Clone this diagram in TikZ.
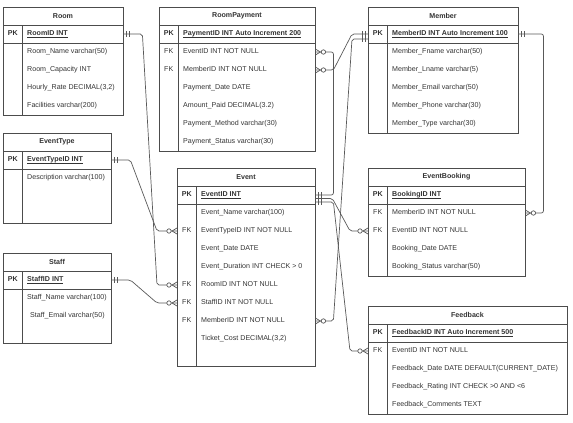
\documentclass[tikz,border=0pt]{standalone}
\usepackage{fontspec}
\setmainfont{Liberation Sans}
\usetikzlibrary{calc}

\tikzset{
  tblline/.style={draw=black!70, line width=0.7pt},
  rel/.style={draw=black!65, line width=0.7pt},
  conn/.style={rel, rounded corners=2pt},
  titletext/.style={font=\fontsize{7.1}{8.5}\selectfont\bfseries, text=black!80},
  keytext/.style={anchor=west, minimum width=19pt, inner sep=0pt, text height=5.2pt, text depth=1.4pt,
    font=\fontsize{7.1}{8.5}\selectfont, text=black!80},
  rowtext/.style={anchor=west, inner sep=0pt, text height=5.2pt, text depth=1.4pt,
    font=\fontsize{7.1}{8.5}\selectfont, text=black!80}
}

% #1 name, #2 left, #3 top, #4 right, #5 body rows, #6 title, #7 primary key, #8 rows key/text
\newcommand{\ertable}[8]{%
  \draw[tblline] (#2,#3) rectangle (#4,#3+36+18*#5);
  \draw[tblline] (#2,#3+18) -- (#4,#3+18) (#2,#3+36) -- (#4,#3+36)
    (#2+19,#3+18) -- (#2+19,#3+36+18*#5);
  \node[titletext] (#1) at ({(#2+#4)/2},#3+9) {#6};
  \node[keytext, font=\fontsize{7.1}{8.5}\selectfont\bfseries] (#1-pk-key) at (#2,#3+27) {PK};
  \node[rowtext] (#1-pk) at (#2+24,#3+27)
    {\makebox[\dimexpr#4pt-#2pt-24pt\relax][l]{\bfseries\underline{\smash{#7}}}};
  \foreach \fk/\txt [count=\row] in {#8}
    {\node[keytext] (#1-\row-key) at (#2,#3+27+18*\row) {\fk};
     \node[rowtext] (#1-\row) at (#2+24,#3+27+18*\row)
       {\makebox[\dimexpr#4pt-#2pt-24pt\relax][l]{\txt}};}
}

% mandatory one: #1 point on the table edge, #2 = 1 line leaves right, -1 left
\newcommand{\markone}[2]{%
  \draw[rel] ($(#1)+(#2*3,-3)$) -- ++(0,6) ($(#1)+(#2*6,-3)$) -- ++(0,6);}
% zero or many
\newcommand{\markmany}[2]{%
  \draw[rel] ($(#1)+(0,-3)$) -- ($(#1)+(#2*5,0)$) -- ($(#1)+(0,3)$);
  \draw[rel, fill=white] ($(#1)+(#2*8,0)$) circle[radius=2.2pt];}

\begin{document}
\begin{tikzpicture}[x=1pt, y=-1pt]
\useasboundingbox (0,0) rectangle (573,423);

% tables
\ertable{room}{3}{7}{123}{4}{Room}{RoomID INT}
  {/Room\_Name varchar(50), /Room\_Capacity INT, /{Hourly\_Rate DECIMAL(3,2)}, /Facilities varchar(200)}
\ertable{pay}{159}{7}{315}{6}{RoomPayment}{PaymentID INT Auto Increment 200}
  {FK/EventID INT NOT NULL, FK/MemberID INT NOT NULL, /Payment\_Date DATE,
   /Amount\_Paid DECIMAL(3.2), /Payment\_Method varchar(30), /Payment\_Status varchar(30)}
\ertable{member}{368}{7}{518}{5}{Member}{MemberID INT Auto Increment 100}
  {/Member\_Fname varchar(50), /Member\_Lname varchar(5), /Member\_Email varchar(50),
   /Member\_Phone varchar(30), /Member\_Type varchar(30)}
\ertable{etype}{3}{133}{111}{3}{EventType}{EventTypeID INT}{/Description varchar(100)}
\ertable{staff}{3}{253}{111}{3}{Staff}{StaffID INT}
  {/Staff\_Name varchar(100), /{\hspace*{3pt}Staff\_Email varchar(50)}}
\ertable{event}{177}{168}{315}{9}{Event}{EventID INT}
  {/Event\_Name varchar(100), FK/EventTypeID INT NOT NULL, /Event\_Date DATE,
   /Event\_Duration INT CHECK > 0, FK/RoomID INT NOT NULL, FK/StaffID INT NOT NULL,
   FK/MemberID INT NOT NULL, /{Ticket\_Cost DECIMAL(3,2)}}
\ertable{booking}{368}{168}{525}{4}{EventBooking}{BookingID INT}
  {FK/MemberID INT NOT NULL, FK/EventID INT NOT NULL, /Booking\_Date DATE, /Booking\_Status varchar(50)}
\ertable{feedback}{368}{306}{567}{4}{Feedback}{FeedbackID INT Auto Increment 500}
  {FK/EventID INT NOT NULL, /Feedback\_Date DATE DEFAULT(CURRENT\_DATE),
   /Feedback\_Rating INT CHECK >0 AND <6, /Feedback\_Comments TEXT}

% relationships
\coordinate (event-pk-b) at ([yshift=-3.5pt]event-pk.east);
\coordinate (event-pk-c) at ([yshift=-7pt]event-pk.east);
\coordinate (member-pk-b) at ([yshift=-5pt]member-pk-key.west);

\draw[conn] (room-pk.east) -- ++(19,0) -- ([xshift=-20pt]event-5-key.west) -- (event-5-key.west);
\draw[conn] (etype-pk.east) -- ++(19,0) -- ([xshift=-20pt]event-2-key.west) -- (event-2-key.west);
\draw[conn] (staff-pk.east) -- ++(19,0) -- ([xshift=-20pt]event-6-key.west) -- (event-6-key.west);
\draw[conn] (event-pk.east) -- ++(18,0) -- ([xshift=18pt]pay-1.east) -- (pay-1.east);
\draw[conn] (event-pk-b) -- ++(17,0) -- ([xshift=-18pt]booking-2-key.west) -- (booking-2-key.west);
\draw[conn] (event-pk-c) -- ++(18,0) -- ([xshift=-18pt]feedback-1-key.west) -- (feedback-1-key.west);
\draw[conn] (member-pk-key.west) -- ++(-16,0) -- ([xshift=18pt]pay-2.east) -- (pay-2.east);
\draw[conn] (member-pk-b) -- ++(-16,0) -- ([xshift=18pt]event-7.east) -- (event-7.east);
\draw[conn] (member-pk.east) -- ++(25,0) -- ([xshift=18pt]booking-1.east) -- (booking-1.east);

% ends
\markone{room-pk.east}{1} \markone{etype-pk.east}{1} \markone{staff-pk.east}{1}
\markone{event-pk.east}{1} \markone{event-pk-b}{1} \markone{event-pk-c}{1}
\markone{member-pk-key.west}{-1} \markone{member-pk-b}{-1} \markone{member-pk.east}{1}
\markmany{event-5-key.west}{-1} \markmany{event-2-key.west}{-1} \markmany{event-6-key.west}{-1}
\markmany{pay-1.east}{1} \markmany{pay-2.east}{1} \markmany{event-7.east}{1}
\markmany{booking-2-key.west}{-1} \markmany{feedback-1-key.west}{-1} \markmany{booking-1.east}{1}

\end{tikzpicture}
\end{document}
